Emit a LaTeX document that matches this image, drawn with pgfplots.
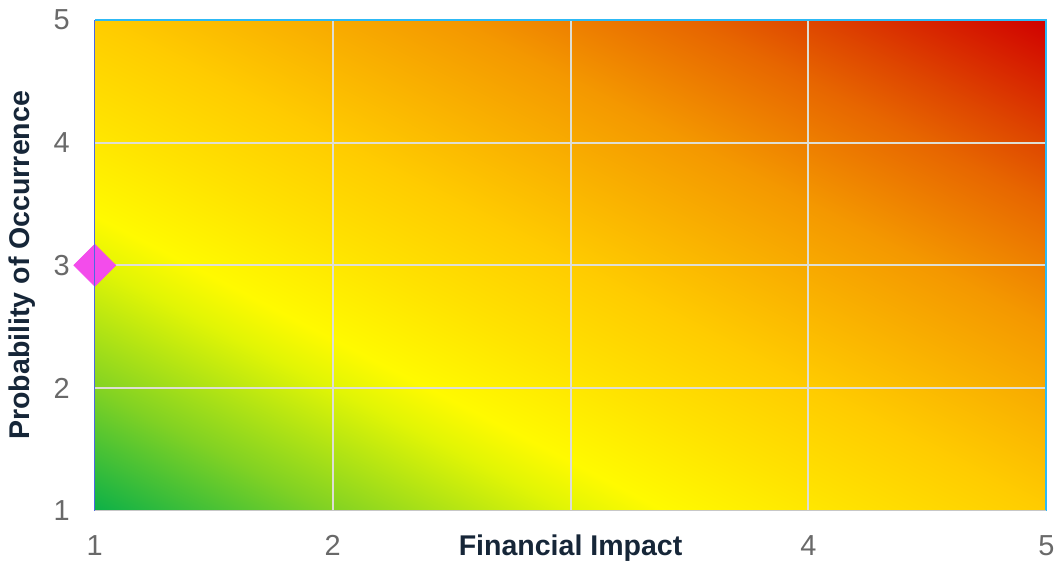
\documentclass[border=0pt]{standalone}
\usepackage{fontspec}
\setmainfont{Liberation Sans}
\usepackage{pgfplots}
\pgfplotsset{compat=1.18}
\pgfdeclarelayer{markers}
\pgfplotsset{layers/axis on top/.define layer set={axis background,pre main,main,axis grid,axis ticks,axis lines,axis tick labels,axis descriptions,axis foreground,markers}{}}
\definecolor{tickgray}{RGB}{105,105,105}
\definecolor{labelc}{RGB}{22,38,56}
\definecolor{gridc}{RGB}{222,222,212}
\definecolor{topc}{RGB}{45,185,245}
\definecolor{leftc}{RGB}{75,105,225}
\definecolor{markc}{RGB}{243,76,235}
\begin{document}
\begin{tikzpicture}
\begin{axis}[
  set layers, axis on top,
  scale only axis, width=477pt, height=246pt,
  xmin=1, xmax=5, ymin=1, ymax=5,
  xtick={1,2,3,4,5}, ytick={1,2,3,4,5},
  minor xtick={2,3,4}, minor ytick={2,3,4},
  xticklabels={1,2,{\textcolor{labelc}{\bfseries\fontsize{14.3}{17}\selectfont Financial Impact}},4,5},
  grid=minor, minor grid style={gridc, line width=1pt},
  major tick length=0pt, minor tick length=0pt,
  axis line style={draw=none},
  clip=false,
  tick label style={font=\fontsize{14.5}{17}\selectfont, color=tickgray},
  xticklabel style={anchor=north, yshift=-8.5pt, text height=10.5pt, text depth=3pt},
  yticklabel style={anchor=east, xshift=-9pt},
  /pgf/number format/assume math mode=true,
  ylabel={Probability of Occurrence},
  ylabel style={font=\bfseries\fontsize{14.3}{17}\selectfont, color=labelc,
    at={([xshift=-36.5pt]axis description cs:0,0.5)}, anchor=center},
  colormap={risk}{rgb255(0mm)=(12,176,72); rgb255(10mm)=(130,210,35); rgb255(20mm)=(225,245,5); rgb255(24mm)=(255,250,0); rgb255(32mm)=(255,226,0); rgb255(40mm)=(255,204,0); rgb255(55mm)=(244,152,0); rgb255(65mm)=(231,102,0); rgb255(70mm)=(222,70,0); rgb255(80mm)=(208,0,0)},
  point meta min=2, point meta max=10,
]
\addplot[surf, shader=interp, mesh/cols=9, point meta=explicit] table[x=x, y=y, meta=m] {
x y m
1 1 2
1.5 1 2.5
2 1 3
2.5 1 3.5
3 1 4
3.5 1 4.5
4 1 5
4.5 1 5.5
5 1 6
1 1.5 2.5
1.5 1.5 3
2 1.5 3.5
2.5 1.5 4
3 1.5 4.5
3.5 1.5 5
4 1.5 5.5
4.5 1.5 6
5 1.5 6.5
1 2 3
1.5 2 3.5
2 2 4
2.5 2 4.5
3 2 5
3.5 2 5.5
4 2 6
4.5 2 6.5
5 2 7
1 2.5 3.5
1.5 2.5 4
2 2.5 4.5
2.5 2.5 5
3 2.5 5.5
3.5 2.5 6
4 2.5 6.5
4.5 2.5 7
5 2.5 7.5
1 3 4
1.5 3 4.5
2 3 5
2.5 3 5.5
3 3 6
3.5 3 6.5
4 3 7
4.5 3 7.5
5 3 8
1 3.5 4.5
1.5 3.5 5
2 3.5 5.5
2.5 3.5 6
3 3.5 6.5
3.5 3.5 7
4 3.5 7.5
4.5 3.5 8
5 3.5 8.5
1 4 5
1.5 4 5.5
2 4 6
2.5 4 6.5
3 4 7
3.5 4 7.5
4 4 8
4.5 4 8.5
5 4 9
1 4.5 5.5
1.5 4.5 6
2 4.5 6.5
2.5 4.5 7
3 4.5 7.5
3.5 4.5 8
4 4.5 8.5
4.5 4.5 9
5 4.5 9.5
1 5 6
1.5 5 6.5
2 5 7
2.5 5 7.5
3 5 8
3.5 5 8.5
4 5 9
4.5 5 9.5
5 5 10
};
\begin{pgfonlayer}{axis foreground}
\draw[topc, line width=1.1pt] (axis cs:1,5) -- (axis cs:5,5) -- (axis cs:5,1);
\draw[leftc, line width=0.6pt] (axis cs:1,1) -- (axis cs:1,5);
\draw[black!22, line width=0.6pt] (axis cs:1,1) -- (axis cs:5,1);
\end{pgfonlayer}
\addplot[on layer=markers, only marks, mark=square*, mark size=7.4pt, mark options={rotate=45, fill=markc, draw=markc}] coordinates {(1,3)};
\path ([shift={(-47.5pt,-29pt)}]axis cs:1,1) rectangle ([shift={(6pt,10pt)}]axis cs:5,5);
\end{axis}
\end{tikzpicture}
\end{document}
